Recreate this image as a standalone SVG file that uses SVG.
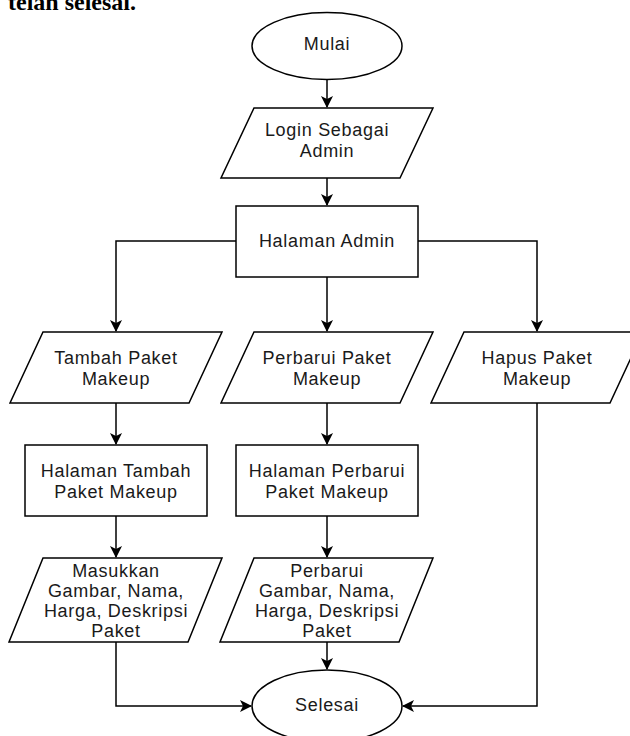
<svg xmlns="http://www.w3.org/2000/svg" width="630" height="736" viewBox="0 0 630 736">
<style>
.s{fill:#fff;stroke:#000;stroke-width:1.5}
.t{font-family:"Liberation Sans",Arial,sans-serif;font-size:18px;fill:#1a1a1a;text-anchor:middle;letter-spacing:0.7px}
.c{fill:none;stroke:#000;stroke-width:1.5}
.h{font-family:"Liberation Serif","Times New Roman",serif;font-weight:bold;font-size:24px;fill:#000}
</style>
<defs>
<marker id="a" viewBox="0 0 12 12" refX="11" refY="6" markerWidth="12" markerHeight="12" markerUnits="userSpaceOnUse" orient="auto">
<path d="M0,0 L12,6 L0,12 L3,6 Z" fill="#000"/>
</marker>
</defs>
<rect width="630" height="736" fill="#fff"/>
<text class="h" x="8" y="10">telah selesai.</text>
<g id="connectors">
<path class="c" d="M327,79.5 V107" marker-end="url(#a)"/>
<path class="c" d="M327,178 V205" marker-end="url(#a)"/>
<path class="c" d="M236,241 H116 V331" marker-end="url(#a)"/>
<path class="c" d="M327,277 V331" marker-end="url(#a)"/>
<path class="c" d="M418,241 H537 V331" marker-end="url(#a)"/>
<path class="c" d="M116,403 V444" marker-end="url(#a)"/>
<path class="c" d="M327,403 V444" marker-end="url(#a)"/>
<path class="c" d="M116,516 V557" marker-end="url(#a)"/>
<path class="c" d="M327,516 V557" marker-end="url(#a)"/>
<path class="c" d="M327,642 V669" marker-end="url(#a)"/>
<path class="c" d="M116,642 V706 H251" marker-end="url(#a)"/>
<path class="c" d="M537,403 V706 H403" marker-end="url(#a)"/>
</g>
<g id="mulai">
<ellipse class="s" cx="327" cy="46" rx="75" ry="33.5"/>
<text class="t" x="327" y="50">Mulai</text>
</g>
<g id="login">
<polygon class="s" points="254,108 433,108 400,178 221,178"/>
<text class="t" x="327" y="136">Login Sebagai</text>
<text class="t" x="327" y="157">Admin</text>
</g>
<g id="halaman-admin">
<rect class="s" x="236" y="206" width="182" height="71"/>
<text class="t" x="327" y="247">Halaman Admin</text>
</g>
<g id="tambah-paket">
<polygon class="s" points="43,332 222,332 189,403 10,403"/>
<text class="t" x="116" y="363.5">Tambah Paket</text>
<text class="t" x="116" y="384.5">Makeup</text>
</g>
<g id="perbarui-paket">
<polygon class="s" points="254,332 433,332 400,403 221,403"/>
<text class="t" x="327" y="363.5">Perbarui Paket</text>
<text class="t" x="327" y="384.5">Makeup</text>
</g>
<g id="hapus-paket">
<polygon class="s" points="464,332 643,332 610,403 431,403"/>
<text class="t" x="537" y="363.5">Hapus Paket</text>
<text class="t" x="537" y="384.5">Makeup</text>
</g>
<g id="halaman-tambah">
<rect class="s" x="25" y="445" width="182" height="71"/>
<text class="t" x="116" y="477">Halaman Tambah</text>
<text class="t" x="116" y="498">Paket Makeup</text>
</g>
<g id="halaman-perbarui">
<rect class="s" x="236" y="445" width="182" height="71"/>
<text class="t" x="327" y="477">Halaman Perbarui</text>
<text class="t" x="327" y="498">Paket Makeup</text>
</g>
<g id="masukkan">
<polygon class="s" points="43,558 222,558 188,642 9,642"/>
<text class="t" x="116" y="577">Masukkan</text>
<text class="t" x="116" y="597">Gambar, Nama,</text>
<text class="t" x="116" y="617">Harga, Deskripsi</text>
<text class="t" x="116" y="637">Paket</text>
</g>
<g id="perbarui-data">
<polygon class="s" points="254,558 433,558 399,642 220,642"/>
<text class="t" x="327" y="577">Perbarui</text>
<text class="t" x="327" y="597">Gambar, Nama,</text>
<text class="t" x="327" y="617">Harga, Deskripsi</text>
<text class="t" x="327" y="637">Paket</text>
</g>
<g id="selesai">
<ellipse class="s" cx="327" cy="706" rx="75" ry="36"/>
<text class="t" x="327" y="711">Selesai</text>
</g>
</svg>
